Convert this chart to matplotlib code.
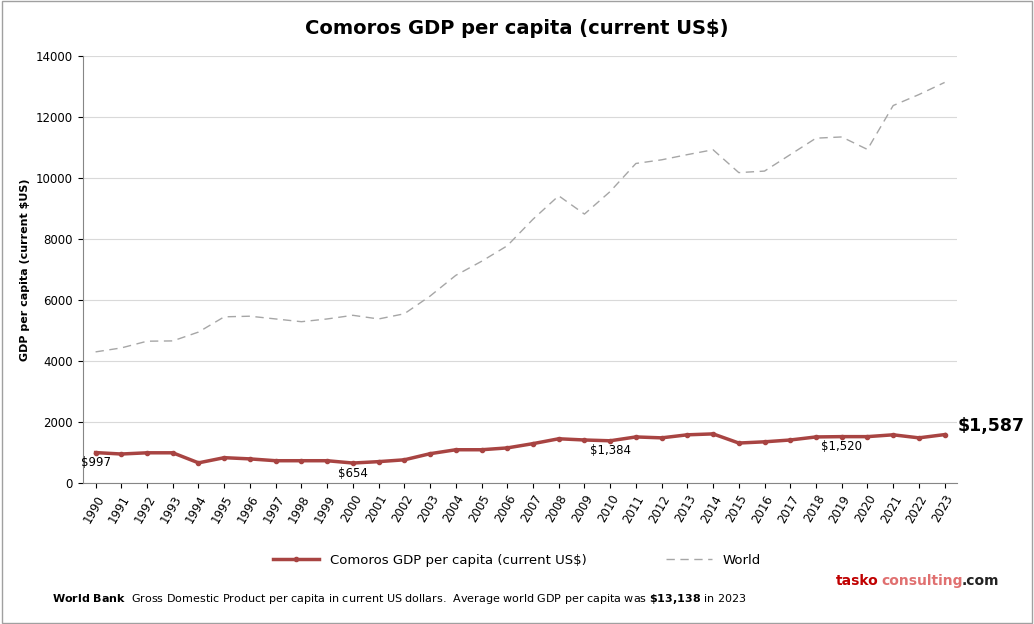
import matplotlib.pyplot as plt
from matplotlib.patches import Rectangle

years = list(range(1990, 2024))
comoros = [997, 950, 990, 990, 660, 830, 790, 730, 730, 730, 654, 700, 760, 960,
           1090, 1090, 1150, 1290, 1450, 1410, 1384, 1510, 1480, 1580, 1610, 1310,
           1350, 1410, 1510, 1520, 1520, 1580, 1480, 1587]
world = [4300, 4430, 4650, 4660, 4950, 5450, 5470, 5380, 5290, 5380, 5500, 5380,
         5550, 6130, 6810, 7270, 7780, 8650, 9420, 8820, 9560, 10480, 10600, 10770,
         10930, 10180, 10230, 10770, 11310, 11350, 10940, 12380, 12740, 13138]
labels = {1990: "$997", 2000: "$654", 2010: "$1,384", 2019: "$1,520"}

fig = plt.figure(figsize=(10.34, 6.24), dpi=100)
fig.patches.append(Rectangle((0.002, 0.002), 0.996, 0.996, transform=fig.transFigure,
                             fill=False, edgecolor="#a0a0a0", lw=1))
ax = fig.add_axes([0.080, 0.226, 0.846, 0.684])

x = range(len(years))
ax.plot(x, comoros, color="#a84442", lw=2.5, marker="o", ms=3,
        label="Comoros GDP per capita (current US$)")
ax.plot(x, world, color="#a6a6a6", lw=1, ls=(0, (6, 4)), label="World")

for i, y in enumerate(years):
    if y in labels:
        ax.text(i, comoros[i] - 120, labels[y], ha="center", va="top", fontsize=8.5)
ax.text(len(years) - 1 + 0.5, comoros[-1], "$1,587", fontsize=12.5, fontweight="bold",
        va="bottom", ha="left")

ax.set_xlim(-0.5, len(years) - 0.5)
ax.set_ylim(0, 14000)
ax.set_yticks(range(0, 14001, 2000))
ax.set_xticks(list(x))
ax.set_xticklabels(years, rotation=60, ha="right", rotation_mode="anchor", fontsize=8.5)
ax.tick_params(axis="y", labelsize=8.5)
ax.grid(axis="y", color="#d9d9d9", lw=0.8)
ax.set_axisbelow(True)
for s in ["top", "right"]:
    ax.spines[s].set_visible(False)
for s in ["left", "bottom"]:
    ax.spines[s].set_color("#868686")
ax.set_ylabel("GDP per capita (current $US)", fontsize=8, fontweight="bold")

fig.text(0.5, 0.955, "Comoros GDP per capita (current US$)", ha="center", va="center",
         fontsize=14, fontweight="bold")
fig.legend(loc="center", bbox_to_anchor=(0.5, 0.102), ncol=2, frameon=False,
           fontsize=9.5, columnspacing=6, handlelength=3.5)
fig.text(0.05, 0.035, r"$\bf{World\ Bank}$  Gross Domestic Product per capita in current US dollars.  "
         r"Average world GDP per capita was $\bf{\$13{,}138}$ in 2023", fontsize=8)
fig.text(0.808, 0.062, "tasko", color="#c00000", fontsize=10, fontweight="bold")
fig.text(0.852, 0.062, "consulting", color="#e07070", fontsize=10, fontweight="bold")
fig.text(0.930, 0.062, ".com", color="#222222", fontsize=10, fontweight="bold")

fig.savefig("out.png", dpi=100)
